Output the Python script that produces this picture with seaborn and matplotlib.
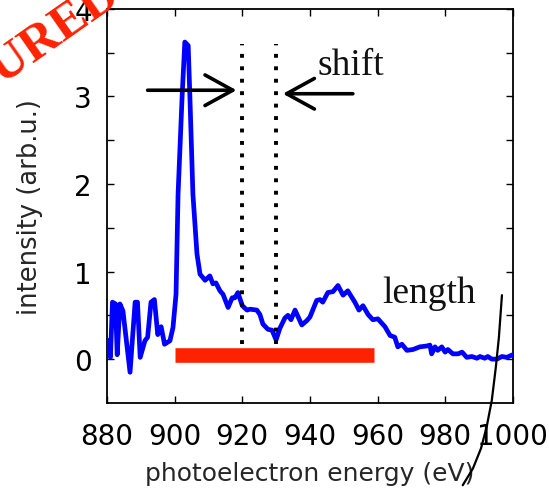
import matplotlib
matplotlib.use("Agg")
import matplotlib.pyplot as plt
import seaborn as sns
import pandas as pd

# Photoelectron spectrum (energy in eV, intensity in arb. units)
energy = [880.0, 881.0, 881.6, 882.5, 883.0, 883.8, 884.7, 886.8, 888.3, 889.0,
          889.8, 891.2, 892.0, 893.0, 894.0, 895.0, 896.0, 897.0, 898.6, 899.5,
          900.4, 901.0, 902.2, 903.0, 904.0, 904.5, 905.4, 906.6, 907.5, 909.0,
          910.4, 911.3, 912.2, 913.4, 914.3, 915.8, 917.0, 917.8, 918.7, 920.0,
          921.4, 922.3, 924.3, 925.2, 926.1, 927.6, 928.8, 930.0, 931.1, 932.6,
          933.5, 934.4, 935.6, 937.6, 939.1, 940.0, 942.0, 943.0, 943.8, 945.3,
          946.8, 948.3, 949.8, 951.2, 953.3, 954.5, 955.7, 957.2, 958.6, 960.1,
          962.2, 963.7, 965.1, 966.0, 967.2, 968.7, 970.5, 972.5, 974.6, 975.5,
          976.0, 977.0, 977.8, 979.0, 980.0, 980.8, 982.3, 983.8, 985.0, 986.4,
          987.9, 989.4, 990.3, 991.7, 992.6, 993.8, 995.3, 996.8, 998.2, 1000.0]
intensity = [0.22, 0.02, 0.65, 0.63, 0.05, 0.63, 0.55, -0.15, 0.65, 0.65,
             0.02, 0.21, 0.25, 0.65, 0.68, 0.28, 0.37, 0.17, 0.21, 0.36,
             0.74, 1.88, 3.00, 3.62, 3.58, 3.00, 1.88, 1.20, 0.97, 0.90,
             0.95, 0.86, 0.87, 0.78, 0.74, 0.59, 0.70, 0.70, 0.76, 0.61,
             0.56, 0.57, 0.56, 0.51, 0.40, 0.34, 0.33, 0.22, 0.35, 0.47,
             0.50, 0.45, 0.56, 0.39, 0.44, 0.48, 0.67, 0.68, 0.65, 0.76,
             0.77, 0.84, 0.73, 0.78, 0.65, 0.56, 0.61, 0.51, 0.45, 0.46,
             0.37, 0.27, 0.25, 0.14, 0.17, 0.10, 0.11, 0.14, 0.15, 0.16,
             0.06, 0.14, 0.10, 0.14, 0.08, 0.11, 0.06, 0.06, 0.08, 0.02,
             0.03, 0.01, 0.03, 0.01, 0.03, 0.00, 0.00, 0.03, 0.02, 0.05]

# Peak positions marked by the dotted lines and the energy shift between them
marker_energies = [920, 930]
marker_span = [0.17, 3.60]
shift_left = [892.0, 918.3]
shift_right = [952.7, 932.0]
shift_level = [3.07, 3.03]

# Extent of the spectral window (red bar)
window_energy = [900, 959]
window_level = 0.05

# Hand-drawn pointer near the high-energy end
pointer_energy = [996.8, 995.9, 995.0, 993.8, 992.3, 990.6, 988.2, 985.2]
pointer_level = [0.73, 0.25, -0.09, -0.47, -0.77, -1.02, -1.25, -1.44]

x_ticks = [880, 900, 920, 940, 960, 980, 1000]
y_ticks = [0, 1, 2, 3, 4]

sns.set_theme(style="ticks")
plt.rcParams["font.family"] = ["DejaVu Sans"]

fig = plt.figure(figsize=(5.49, 4.89), dpi=100)
ax = fig.add_axes([0.195, 0.174, 0.739, 0.806])

df = pd.DataFrame({"energy": energy, "intensity": intensity})
sns.lineplot(data=df, x="energy", y="intensity", ax=ax, color="#0000ff",
             linewidth=3.4, zorder=3)

for e in marker_energies:
    ax.plot([e, e], marker_span, color="black", linewidth=2.8,
            linestyle=(0, (1, 2.2)), dash_capstyle="butt", zorder=4)

ax.plot(window_energy, [window_level, window_level], color="#ff2200",
        linewidth=10.5, solid_capstyle="butt", zorder=5)

arrow_kw = dict(arrowstyle="->,head_length=1.0,head_width=0.55",
                mutation_scale=20, color="black", linewidth=2.6,
                shrinkA=0, shrinkB=0)
ax.annotate("", xy=(shift_left[1], shift_level[0]),
            xytext=(shift_left[0], shift_level[0]), arrowprops=arrow_kw)
ax.annotate("", xy=(shift_right[1], shift_level[1]),
            xytext=(shift_right[0], shift_level[1]), arrowprops=arrow_kw)

ax.text(942.2, 3.36, "shift", family=["Liberation Serif"], fontsize=27,
        ha="left", va="center", color="#111111")
ax.text(961.4, 0.76, "length", family=["Liberation Serif"], fontsize=27,
        ha="left", va="center", color="#111111")

ax.plot(pointer_energy, pointer_level, color="black", linewidth=1.6,
        clip_on=False, zorder=6)

ax.set_xlim(880, 1000)
ax.set_ylim(-0.5, 4)
ax.set_xticks(x_ticks)
ax.set_yticks(y_ticks)
ax.set_yticks([0.5, 1.5, 2.5, 3.5], minor=True)
ax.tick_params(axis="both", which="both", direction="in", length=5,
               width=1, top=True, right=True, labelsize=20, pad=14,
               colors="black")
ax.tick_params(axis="y", which="major", pad=11)
for s in ax.spines.values():
    s.set_color("black")
    s.set_linewidth(1.3)
ax.set_xlabel("photoelectron energy (eV)", fontsize=18, labelpad=8)
ax.set_ylabel("intensity (arb.u.)", fontsize=18.5, labelpad=22)

fig.text(0.186, 1.058, "FEATURED", family=["Liberation Serif"],
         fontweight="bold", fontsize=37, color="#ff2200", rotation=35,
         rotation_mode="anchor", ha="right", va="top")

fig.savefig("out.png", dpi=100)
